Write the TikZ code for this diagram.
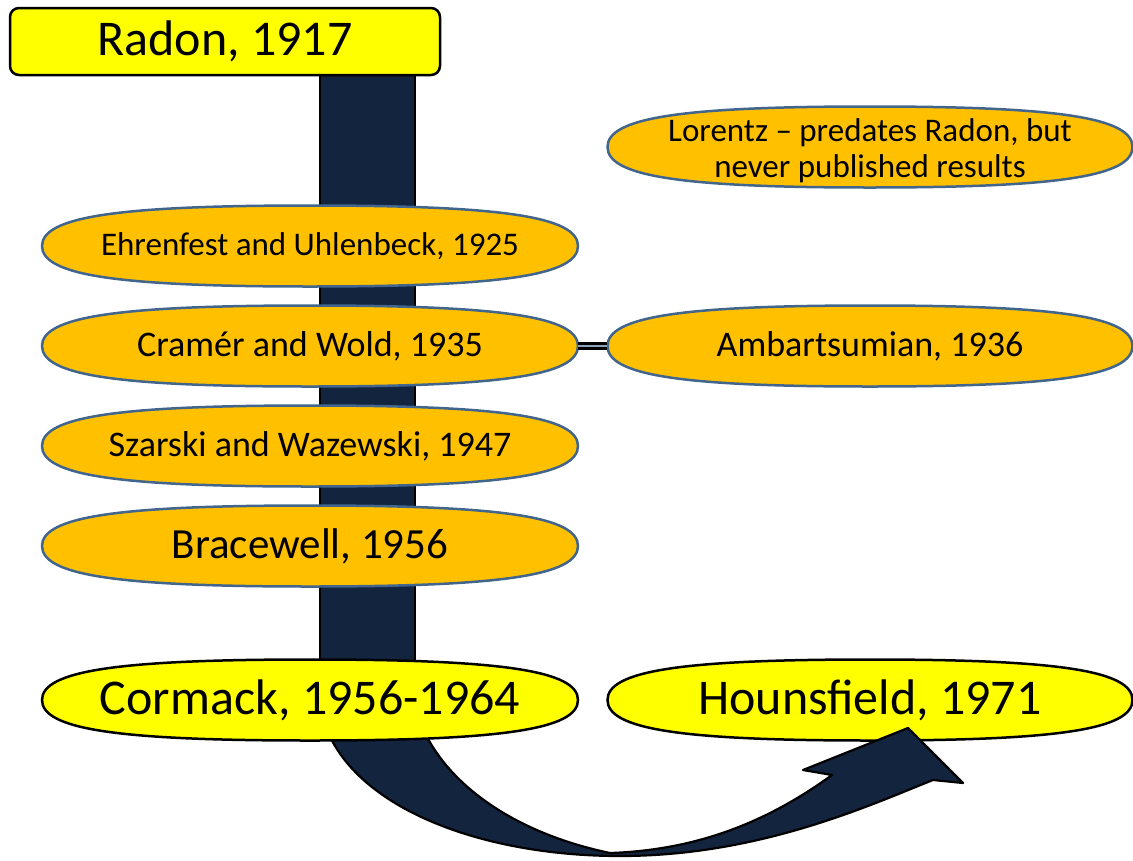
\documentclass[tikz,border=0pt]{standalone}
\usepackage{fontspec}
\setmainfont{Carlito}
\definecolor{orng}{RGB}{255,192,0}
\definecolor{ovalline}{RGB}{65,101,140}
\definecolor{navybar}{RGB}{19,36,63}
\definecolor{yel}{RGB}{255,255,0}
% rounded oval outline: #1 style, #2 cx, #3 cy, #4 half width, #5 half height
\newcommand\ovalat[5]{%
  \path[#1] (#2+#4,#3) .. controls (#2+#4,#3+0.72*#5) and (#2+0.72*#4,#3+#5) .. (#2,#3+#5)
   .. controls (#2-0.72*#4,#3+#5) and (#2-#4,#3+0.72*#5) .. (#2-#4,#3)
   .. controls (#2-#4,#3-0.72*#5) and (#2-0.72*#4,#3-#5) .. (#2,#3-#5)
   .. controls (#2+0.72*#4,#3-#5) and (#2+#4,#3-0.72*#5) .. (#2+#4,#3) -- cycle;}
\begin{document}
\begin{tikzpicture}[x=1pt,y=-1pt,
  ovalsty/.style={fill=orng, draw=ovalline, line width=2.5pt},
  yovalsty/.style={fill=yel, draw=black, line width=2.5pt},
  txt/.style={inner sep=0pt, minimum width=536pt, minimum height=81pt, align=center},
  rtxt/.style={txt, minimum width=525pt},
  band/.style={fill=navybar, draw=black, line width=2.2pt, line join=round},
  fs/.style={font=\fontsize{#1}{#1}\selectfont},
  link/.style={draw=black, line width=3pt, double=ovalline!60, double distance=1.5pt},
]
\useasboundingbox (0,0) rectangle (1133,860);

% vertical bar (timeline)
\draw[band] (320,60) rectangle (415,712);

% orange ovals
\ovalat{ovalsty}{310}{246}{268}{40.5}
\node[txt, fs=33] (ehren) at (310,246) {Ehrenfest and Uhlenbeck, 1925};
\ovalat{ovalsty}{310}{346}{268}{40.5}
\node[txt, fs=36] (cramer) at (310,346) {Cramér and Wold, 1935};
\ovalat{ovalsty}{310}{446}{268}{40.5}
\node[txt, fs=36] (szarski) at (310,446) {Szarski and Wazewski, 1947};
\ovalat{ovalsty}{310}{546}{268}{40.5}
\node[txt, fs=43] (brace) at (310,546) {Bracewell, 1956};
\ovalat{ovalsty}{870}{147}{262.5}{40.5}
\node[rtxt, font=\fontsize{33}{36}\selectfont] (lorentz) at (870,151) {Lorentz -- predates Radon, but\\ never published results};
\ovalat{ovalsty}{870}{346}{262.5}{40.5}
\node[rtxt, fs=36] (amb) at (870,346) {Ambartsumian, 1936};

\draw[link] (cramer.east) -- (amb.west);

% top box
\node[draw=black, fill=yel, line width=2.5pt, rounded corners=9pt,
  minimum width=430pt, minimum height=67pt, inner sep=0pt, fs=50] (radon) at (225,41.5) {Radon, 1917};

% Hounsfield
\ovalat{yovalsty}{870}{700}{262.5}{40.5}
\node[rtxt, fs=50] (houns) at (870,700) {Hounsfield, 1971};

% curved arrow
\draw[band] (320,705) .. controls (335,800) and (470,856) .. (620,856)
  .. controls (760,856) and (870,805) .. (933,780)
  -- (963,783) -- (908,728) -- (803,770) -- (832,775)
  .. controls (770,820) and (700,850) .. (610,853)
  .. controls (500,830) and (430,770) .. (415,705) -- cycle;

% Cormack
\ovalat{yovalsty}{310}{700}{268}{40.5}
\node[txt, fs=50] (cormack) at (310,700) {Cormack, 1956-1964};
\end{tikzpicture}
\end{document}
